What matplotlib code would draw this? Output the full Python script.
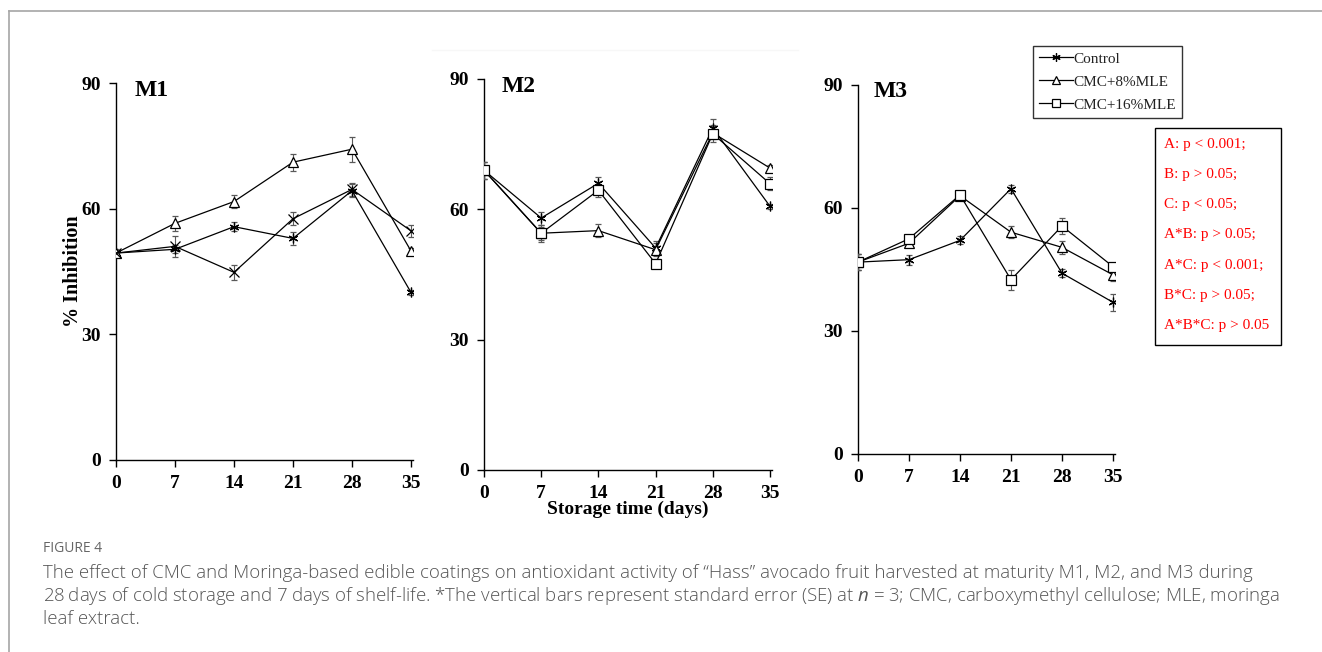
import numpy as np
import matplotlib
matplotlib.use("Agg")
import matplotlib.pyplot as plt
from matplotlib.lines import Line2D

# storage days
days = [0, 7, 14, 21, 28, 35]

# M1
m1_control = [49.4, 50.3, 55.7, 52.9, 64.3, 40.0]
m1_control_se = [1.0, 1.0, 1.0, 1.5, 1.5, 0.6]
m1_cmc8 = [49.4, 56.5, 61.7, 71.1, 74.2, 49.9]
m1_cmc8_se = [0.8, 1.8, 1.5, 2.0, 3.0, 0.6]
m1_cmc16 = [49.4, 51.0, 44.8, 57.6, 64.6, 54.7]
m1_cmc16_se = [0.8, 2.5, 1.8, 1.5, 1.5, 1.5]

# M2
m2_control = [69.0, 58.0, 66.0, 51.1, 78.7, 60.7]
m2_control_se = [2.0, 1.5, 1.5, 1.5, 2.0, 0.6]
m2_cmc8 = [69.0, 54.5, 55.1, 50.7, 77.6, 69.5]
m2_cmc8_se = [2.0, 1.5, 1.5, 1.5, 1.5, 0.6]
m2_cmc16 = [69.0, 54.5, 64.4, 47.5, 77.4, 65.9]
m2_cmc16_se = [2.0, 2.0, 1.5, 1.0, 2.0, 1.5]

# M3
m3_control = [46.8, 47.4, 52.1, 64.7, 44.1, 37.0]
m3_control_se = [2.0, 1.2, 1.0, 1.0, 1.0, 2.0]
m3_cmc8 = [46.8, 51.4, 63.0, 54.1, 50.4, 43.7]
m3_cmc8_se = [2.0, 1.0, 0.8, 1.5, 1.5, 1.5]
m3_cmc16 = [46.8, 52.5, 63.2, 42.5, 55.6, 45.7]
m3_cmc16_se = [2.0, 1.0, 1.0, 2.5, 2.0, 1.0]

series_names = ["Control", "CMC+8%MLE", "CMC+16%MLE"]
panel_titles = ["M1", "M2", "M3"]
yticks = [0, 30, 60, 90]

stats_lines = ["A: p < 0.001;", "B: p > 0.05;", "C: p < 0.05;", "A*B: p > 0.05;",
               "A*C: p < 0.001;", "B*C: p > 0.05;", "A*B*C: p > 0.05"]

panels = [
    [(m1_control, m1_control_se), (m1_cmc8, m1_cmc8_se), (m1_cmc16, m1_cmc16_se)],
    [(m2_control, m2_control_se), (m2_cmc8, m2_cmc8_se), (m2_cmc16, m2_cmc16_se)],
    [(m3_control, m3_control_se), (m3_cmc8, m3_cmc8_se), (m3_cmc16, m3_cmc16_se)],
]

plt.rcParams['mathtext.fontset'] = 'custom'
plt.rcParams['mathtext.it'] = 'Open Sans:italic'
plt.rcParams['mathtext.rm'] = 'Open Sans'

W, H = 1322, 652
fig = plt.figure(figsize=(W / 100, H / 100), dpi=100)

# faint edge of the pasted M2 picture
fig.add_artist(Line2D([432 / W, 798 / W], [1 - 50 / H, 1 - 50 / H], color="0.97", lw=1))

# axes boxes in pixels: x of day 0, x of day 35, y of 90, y of 0
boxes = [(116, 411, 83, 460), (484, 770, 79, 470), (858, 1113, 85, 454)]

star = (6, 2, 0)
markers = [
    [star, "^", "x"],
    [star, "^", "s"],
    [star, "^", "s"],
]

serif = "Liberation Serif"
axes = []
for i, (x0, x35, y90, y0) in enumerate(boxes):
    xmax = 35.25
    w = (x35 - x0) / 35 * xmax
    ax = fig.add_axes([x0 / W, 1 - y0 / H, w / W, (y0 - y90) / H])
    for j, (vals, se) in enumerate(panels[i]):
        m = markers[i][j]
        ax.errorbar(days, vals, yerr=se, color="black", lw=0.9,
                    ecolor="0.35", elinewidth=0.8, capsize=2.5, capthick=0.8,
                    marker=m, ms=7 if m != "s" else 6.5, mfc="white", mec="black",
                    mew=0.9, zorder=3)
    ax.set_xlim(0, xmax)
    ax.set_ylim(0, 90)
    ax.set_xticks(days)
    ax.set_yticks(yticks)
    ax.spines[["top", "right"]].set_visible(False)
    for s in ["left", "bottom"]:
        ax.spines[s].set_linewidth(1.0)
    ax.tick_params(direction="out", length=5, width=1, pad=6)
    ax.set_xticklabels([str(d) for d in days])
    for lab in ax.get_xticklabels() + ax.get_yticklabels():
        lab.set_fontfamily(serif)
        lab.set_fontweight("bold")
        lab.set_fontsize(14)
    ax.text(2.2, 88.3, panel_titles[i], fontsize=17,
            fontweight="bold", family=serif, va="center", ha="left")
    ax.set_facecolor("none")
    axes.append(ax)

axes[0].set_ylabel("% Inhibition", fontsize=14.5, fontweight="bold", family=serif, labelpad=-1)
axes[1].set_xlabel("Storage time (days)", fontsize=14, fontweight="bold", family=serif, labelpad=-1)

# legend
handles = [Line2D([], [], color="black", lw=0.9, marker=m, ms=6 if m != "s" else 5.5,
                  mfc="white", mec="black", mew=0.9) for m in [star, "^", "s"]]
leg = fig.legend(handles, series_names, loc="upper left",
                 bbox_to_anchor=(1033 / W, 1 - 46 / H), borderaxespad=0,
                 frameon=True, fancybox=False,
                 edgecolor="black", prop={"family": serif, "size": 11},
                 handlelength=2.2, handletextpad=0.05, borderpad=0.4, labelspacing=0.6)
leg.get_frame().set_linewidth(1.0)
for t in leg.get_texts():
    t.set_color("#222222")

# statistics box
bx0, by0, bx1, by1 = 1155, 128, 1281, 345
fig.patches.append(plt.Rectangle((bx0 / W, 1 - by1 / H), (bx1 - bx0) / W, (by1 - by0) / H,
                                 transform=fig.transFigure, fill=False, edgecolor="black",
                                 lw=1.0))
for k, t in enumerate(stats_lines):
    fig.text(1164 / W, 1 - (144 + k * 30.3) / H, t, color="red", family=serif,
             fontsize=11, va="center", ha="left")

# page frame
fig.add_artist(Line2D([9 / W, 1], [1 - 11 / H, 1 - 11 / H], color="0.65", lw=1.2))
fig.add_artist(Line2D([9 / W, 9 / W], [0, 1 - 11 / H], color="0.65", lw=1.2))

# caption
cap_font = ["Open Sans", "DejaVu Sans"]
fig.text(43 / W, 1 - 549 / H, "FIGURE 4", color="#666666", family=cap_font,
         fontsize=10, va="center")
cap = [
    "The effect of CMC and Moringa-based edible coatings on antioxidant activity of \u201cHass\u201d avocado fruit harvested at maturity M1, M2, and M3 during",
    "28\u2009days of cold storage and 7\u2009days of shelf-life. *The vertical bars represent standard error (SE) at $n$ = 3; CMC, carboxymethyl cellulose; MLE, moringa",
    "leaf extract.",
]
for k, t in enumerate(cap):
    fig.text(43 / W, 1 - (573 + k * 23) / H, t, color="#555555", family=cap_font,
             fontsize=13.4, va="center", fontweight="light")

fig.savefig("out.png", dpi=100)
